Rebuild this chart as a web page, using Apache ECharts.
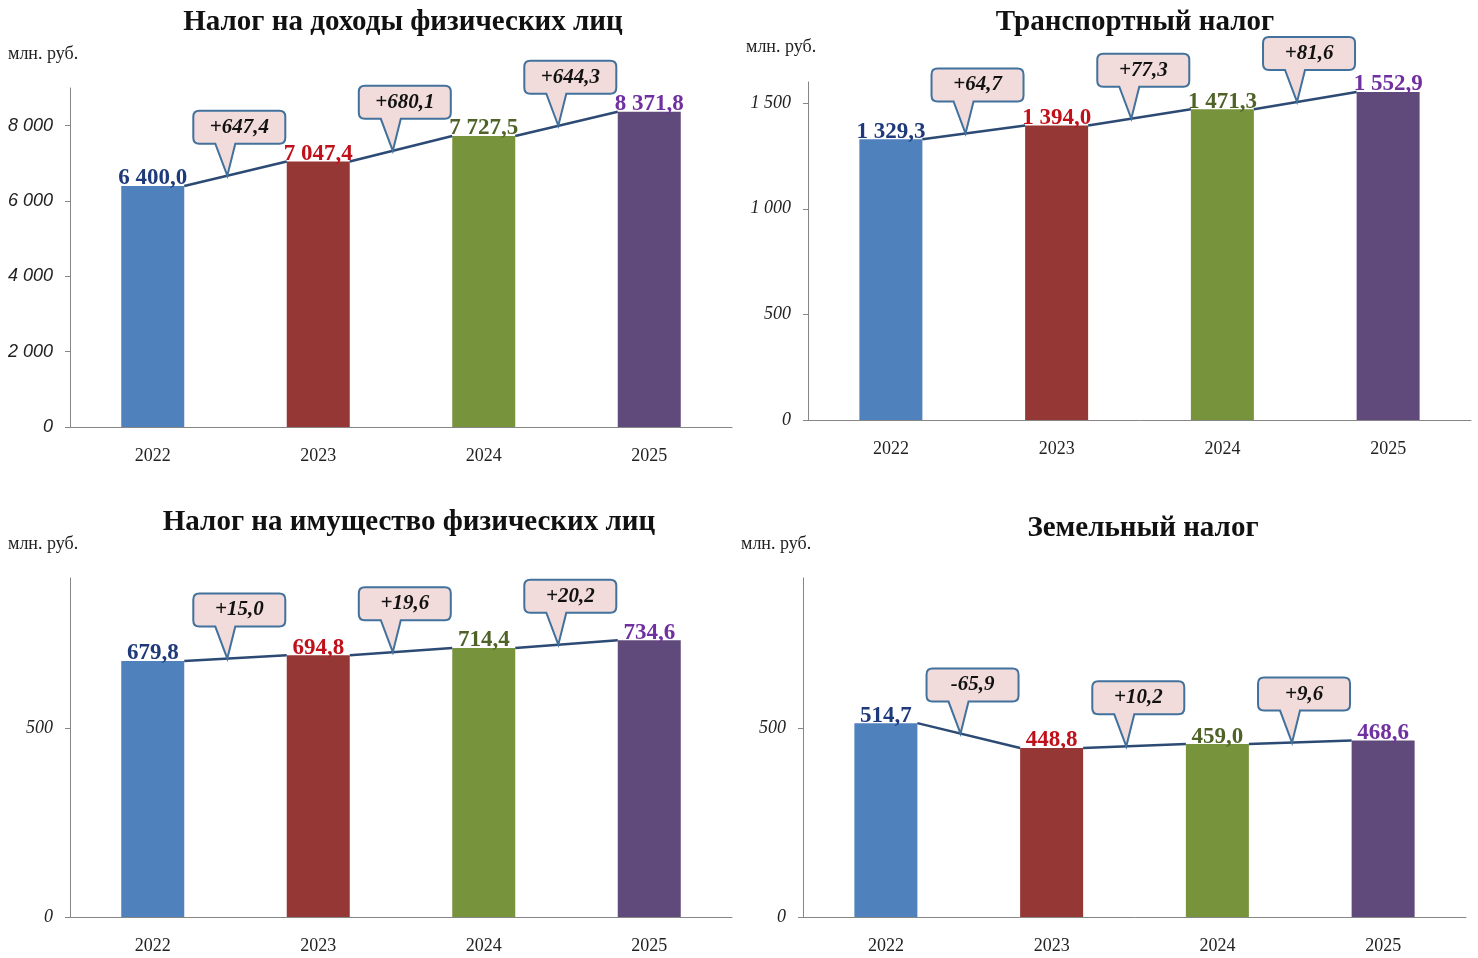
<!DOCTYPE html>
<html>
<head>
<meta charset="utf-8">
<script src="https://cdn.jsdelivr.net/npm/echarts@6/dist/echarts.min.js"></script>
<style>
  html, body { margin: 0; padding: 0; background: #fff; }
  #main { width: 1478px; height: 958px; }
</style>
</head>
<body>
<div id="main"></div>
<script>
// данные
var years = ['2022', '2023', '2024', '2025'];

var ndflValues = [6400.0, 7047.4, 7727.5, 8371.8];
var ndflDeltas = [647.4, 680.1, 644.3];

var transportValues = [1329.3, 1394.0, 1471.3, 1552.9];
var transportDeltas = [64.7, 77.3, 81.6];

var propertyValues = [679.8, 694.8, 714.4, 734.6];
var propertyDeltas = [15.0, 19.6, 20.2];

var landValues = [514.7, 448.8, 459.0, 468.6];
var landDeltas = [-65.9, 10.2, 9.6];

var unitText = 'млн. руб.';

// оформление
var barColors = ['#4f81bd', '#953735', '#77933c', '#604a7b'];
var labelColors = ['#1f3a7a', '#c0101a', '#4f6228', '#7030a0'];
var BAR_W = 63;
var SERIF = '"Liberation Serif", "Times New Roman", serif';

var panels = [
  { title: 'Налог на доходы физических лиц', values: ndflValues, deltas: ndflDeltas,
    max: 9000, interval: 2000, grid: { left: 70, top: 88, width: 662, height: 339 },
    titleX: 398, titleY: 3, unitX: 8, unitY: 45, axisFont: '"Liberation Sans", Arial, sans-serif' },
  { title: 'Транспортный налог', values: transportValues, deltas: transportDeltas,
    max: 1600, interval: 500, grid: { left: 808, top: 82, width: 663, height: 338 },
    titleX: 1130, titleY: 3, unitX: 746, unitY: 38, axisFont: SERIF },
  { title: 'Налог на имущество физических лиц', values: propertyValues, deltas: propertyDeltas,
    max: 900, interval: 500, grid: { left: 70, top: 578, width: 662, height: 339 },
    titleX: 404, titleY: 503, unitX: 8, unitY: 535, axisFont: SERIF },
  { title: 'Земельный налог', values: landValues, deltas: landDeltas,
    max: 900, interval: 500, grid: { left: 803, top: 578, width: 663, height: 339 },
    titleX: 1138, titleY: 509, unitX: 741, unitY: 535, axisFont: SERIF }
];

function groupInt(s) {
  return s.replace(/\B(?=(\d{3})+(?!\d))/g, ' ');
}
function fmt1(v) {
  var neg = v < 0;
  var p = Math.abs(v).toFixed(1).split('.');
  return (neg ? '-' : '') + groupInt(p[0]) + ',' + p[1];
}
function fmtDelta(v) {
  return (v > 0 ? '+' : '') + fmt1(v);
}

// линия между столбцами + выноска с приростом
function renderBridge(params, api) {
  var i = api.value(0);
  var p0 = api.coord([i, api.value(1)]);
  var p1 = api.coord([i + 1, api.value(2)]);
  var half = BAR_W / 2;
  var x0 = p0[0] + half, y0 = p0[1];
  var x1 = p1[0] - half, y1 = p1[1];
  var tx = x0 + (x1 - x0) * 0.42;
  var ty = y0 + (y1 - y0) * 0.42;
  var cx = tx + 12;
  var B = ty - 32, T = B - 33, L = cx - 46, R = cx + 46, r = 6;
  var d = 'M' + (L + r) + ' ' + T +
    ' L' + (R - r) + ' ' + T +
    ' Q' + R + ' ' + T + ' ' + R + ' ' + (T + r) +
    ' L' + R + ' ' + (B - r) +
    ' Q' + R + ' ' + B + ' ' + (R - r) + ' ' + B +
    ' L' + (cx - 4) + ' ' + B +
    ' L' + tx + ' ' + ty +
    ' L' + (cx - 24) + ' ' + B +
    ' L' + (L + r) + ' ' + B +
    ' Q' + L + ' ' + B + ' ' + L + ' ' + (B - r) +
    ' L' + L + ' ' + (T + r) +
    ' Q' + L + ' ' + T + ' ' + (L + r) + ' ' + T + ' Z';
  return {
    type: 'group',
    children: [
      { type: 'line', shape: { x1: x0, y1: y0, x2: x1, y2: y1 },
        style: { stroke: '#2c4a74', lineWidth: 2.5 } },
      { type: 'path',
        shape: { pathData: d, x: L, y: T, width: R - L, height: ty - T, layout: 'cover' },
        style: { fill: '#f2dcdb', stroke: '#41719c', lineWidth: 2 } },
      { type: 'text', x: cx, y: (T + B) / 2,
        style: { text: fmtDelta(api.value(3)), fill: '#111',
          font: 'italic bold 21px ' + SERIF, align: 'center', verticalAlign: 'middle' } }
    ]
  };
}

var titles = [], grids = [], xAxes = [], yAxes = [], series = [], graphics = [];

panels.forEach(function (p, k) {
  titles.push({
    text: p.title, left: p.titleX, top: p.titleY, textAlign: 'center',
    textStyle: { fontFamily: SERIF, fontWeight: 'bold', fontSize: 29, color: '#111' }
  });
  grids.push(p.grid);
  xAxes.push({
    type: 'category', gridIndex: k, data: years,
    axisLine: { lineStyle: { color: '#868686', width: 1 } },
    axisTick: { show: false },
    axisLabel: { fontFamily: SERIF, fontSize: 18, color: '#222', margin: 20 }
  });
  yAxes.push({
    type: 'value', gridIndex: k, min: 0, max: p.max, interval: p.interval,
    splitLine: { show: false },
    axisLine: { show: true, lineStyle: { color: '#868686', width: 1 } },
    axisTick: { show: true, length: 5, lineStyle: { color: '#868686' } },
    axisLabel: {
      showMaxLabel: false, fontFamily: p.axisFont, fontStyle: 'italic',
      fontSize: 18, color: '#222', margin: 17,
      formatter: function (v) { return groupInt(String(v)); }
    }
  });
  series.push({
    type: 'bar', xAxisIndex: k, yAxisIndex: k, barWidth: BAR_W, z: 2,
    data: p.values.map(function (v, i) {
      return {
        value: v,
        itemStyle: { color: barColors[i] },
        label: { color: labelColors[i] }
      };
    }),
    label: {
      show: true, position: 'top', distance: -4,
      fontFamily: SERIF, fontWeight: 'bold', fontSize: 23,
      formatter: function (prm) { return fmt1(prm.value); }
    }
  });
  series.push({
    type: 'custom', xAxisIndex: k, yAxisIndex: k, z: 3,
    renderItem: renderBridge,
    encode: { x: 0, y: [1, 2] },
    data: p.deltas.map(function (dv, i) {
      return [i, p.values[i], p.values[i + 1], dv];
    })
  });
  graphics.push({
    type: 'text', left: p.unitX, top: p.unitY,
    style: { text: unitText, font: '18px ' + SERIF, fill: '#222' }
  });
});

var myChart = echarts.init(document.getElementById('main'));
myChart.setOption({
  animation: false,
  title: titles,
  grid: grids,
  xAxis: xAxes,
  yAxis: yAxes,
  series: series,
  graphic: graphics
});
</script>
</body>
</html>
